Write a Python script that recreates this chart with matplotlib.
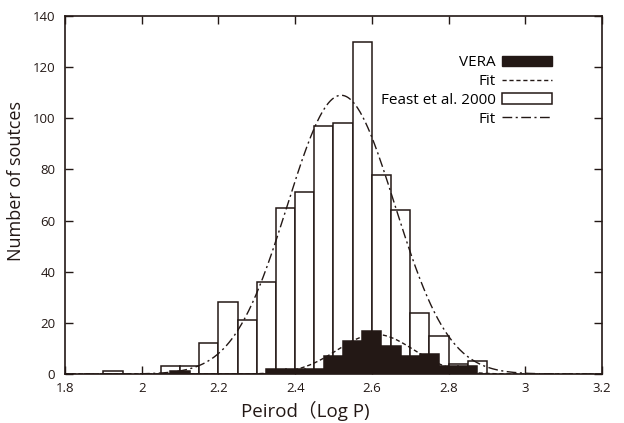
import numpy as np
import matplotlib.pyplot as plt
from matplotlib.patches import Patch
from matplotlib.lines import Line2D

# histogram data (left bin edges, counts), bin width 0.05
feast_left = [1.90, 2.05, 2.10, 2.15, 2.20, 2.25, 2.30, 2.35, 2.40, 2.45,
              2.50, 2.55, 2.60, 2.65, 2.70, 2.75, 2.80, 2.85]
feast_counts = [1, 3, 3, 12, 28, 21, 36, 65, 71, 97,
                98, 130, 78, 64, 24, 15, 4, 5]

vera_left = [2.075, 2.325, 2.375, 2.425, 2.475, 2.525, 2.575, 2.625,
             2.675, 2.725, 2.775, 2.825]
vera_counts = [1, 2, 2, 2, 7, 13, 17, 11, 7, 8, 3, 3]

bin_width = 0.05

# gaussian fits: amplitude, mean, sigma
feast_fit = [109.0, 2.52, 0.14]
vera_fit = [15.5, 2.61, 0.10]

ink = '#231815'
plt.rcParams['font.family'] = ['Open Sans', 'Noto Sans CJK JP', 'DejaVu Sans']

fig = plt.figure(figsize=(6.24, 4.23), dpi=100)
ax = fig.add_axes([65/624, 1-374/423, 537/624, 358/423])

ax.bar(feast_left, feast_counts, width=bin_width, align='edge',
       facecolor='white', edgecolor=ink, linewidth=1.1, zorder=2)
ax.bar(vera_left, vera_counts, width=bin_width, align='edge',
       facecolor=ink, edgecolor=ink, linewidth=1.1, zorder=3)

x = np.linspace(1.8, 3.2, 600)
a, m, s = vera_fit
ax.plot(x, a*np.exp(-(x-m)**2/(2*s**2)), color=ink, lw=1.0,
        ls=(0, (3, 2)), zorder=4)
a, m, s = feast_fit
ax.plot(x, a*np.exp(-(x-m)**2/(2*s**2)), color=ink, lw=1.0,
        ls=(0, (7, 2.5, 1.5, 2.5)), zorder=4)

ax.set_xlim(1.8, 3.2)
ax.set_ylim(0, 140)
ax.set_xticks(np.arange(1.8, 3.21, 0.2))
ax.set_xticklabels(['1.8', '2', '2.2', '2.4', '2.6', '2.8', '3', '3.2'])
ax.set_yticks(range(0, 141, 20))
ax.tick_params(direction='in', length=6, width=1, top=True, right=True,
               labelsize=9.5, colors=ink)
ax.tick_params(axis='y', pad=7)
ax.tick_params(axis='x', pad=6)
for sp in ax.spines.values():
    sp.set_linewidth(1.2)
    sp.set_color(ink)

ax.set_xlabel('Peirod（Log P)', fontsize=13.5, color=ink)
ax.xaxis.set_label_coords((305-65)/537, -0.075)
ax.set_ylabel('Number of soutces', fontsize=13, color=ink)
ax.yaxis.set_label_coords(-0.075, 0.54)

handles = [Patch(facecolor=ink, edgecolor=ink),
           Line2D([], [], color=ink, lw=1.0, ls=(0, (3, 2))),
           Patch(facecolor='white', edgecolor=ink, linewidth=1.1),
           Line2D([], [], color=ink, lw=1.0, ls=(0, (7, 2.5, 1.5, 2.5)))]
labels = ['VERA', 'Fit', 'Feast et al. 2000', 'Fit']
ax.legend(handles, labels, loc='upper right', bbox_to_anchor=(0.907, 0.89),
          frameon=False, markerfirst=False, fontsize=11, handlelength=3.3,
          handleheight=0.7, handletextpad=0.4, labelspacing=0.25,
          borderpad=0, borderaxespad=0)

plt.savefig('out.png', dpi=100)
